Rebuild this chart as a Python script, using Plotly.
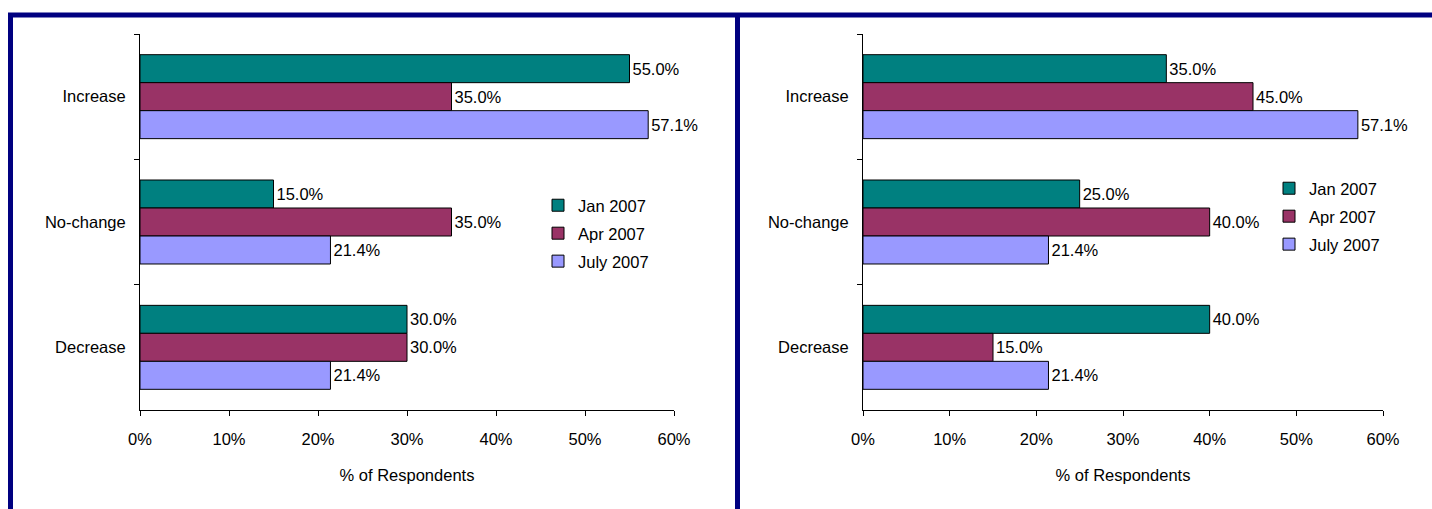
import plotly.graph_objects as go

# Survey categories (top to bottom) and survey rounds
categories = ["Increase", "No-change", "Decrease"]
rounds = ["Jan 2007", "Apr 2007", "July 2007"]

# Left chart: % of respondents per category for each round
left_jan = [55.0, 15.0, 30.0]
left_apr = [35.0, 35.0, 30.0]
left_jul = [57.1, 21.4, 21.4]

# Right chart: % of respondents per category for each round
right_jan = [35.0, 25.0, 40.0]
right_apr = [45.0, 40.0, 15.0]
right_jul = [57.1, 21.4, 21.4]

x_ticks = [0, 10, 20, 30, 40, 50, 60]
x_tick_text = ["0%", "10%", "20%", "30%", "40%", "50%", "60%"]

colors = ["#008080", "#993366", "#9999FF"]
FONT = "Liberation Sans, Arial, sans-serif"
FS = 16.5
W, H = 1432, 509

fig = go.Figure()

panels = [
    ("x", "y", "legend", [left_jan, left_apr, left_jul]),
    ("x2", "y2", "legend2", [right_jan, right_apr, right_jul]),
]
for xa, ya, lg, series in panels:
    for i, (name, vals) in enumerate(zip(rounds, series)):
        fig.add_trace(go.Bar(
            x=vals, y=categories, orientation="h", name=name,
            xaxis=xa, yaxis=ya, legend=lg, legendgroup=lg + name,
            marker=dict(color=colors[i], line=dict(color="#000000", width=1)),
            text=[f"{v:.1f}%" for v in vals], textposition="outside",
            constraintext="none", cliponaxis=False,
            textfont=dict(family=FONT, size=FS, color="#000000"),
            hoverinfo="skip",
        ))

def px_x(p):
    return p / W

def px_y(p):
    return 1 - p / H

y_dom = [px_y(410), px_y(34)]
x_common = dict(
    range=[0, 60], tickvals=x_ticks, ticktext=x_tick_text,
    showline=True, linecolor="#000000", linewidth=1,
    ticks="outside", ticklen=5, tickcolor="#000000", showgrid=False,
    zeroline=False, ticklabelstandoff=9,
    tickfont=dict(family=FONT, size=FS, color="#000000"),
    title=dict(text="% of Respondents", standoff=22,
               font=dict(family=FONT, size=FS, color="#000000")),
    fixedrange=True,
)
y_common = dict(
    categoryorder="array", categoryarray=categories, autorange="reversed",
    showline=True, linecolor="#000000", linewidth=1,
    ticks="outside", ticklen=5, tickcolor="#000000", tickson="boundaries",
    showgrid=False, ticklabelstandoff=10,
    tickfont=dict(family=FONT, size=FS, color="#000000"),
    fixedrange=True,
)

legend_common = dict(
    xanchor="left", yanchor="top", bgcolor="rgba(0,0,0,0)",
    font=dict(family=FONT, size=FS, color="#000000"),
    itemwidth=30, tracegroupgap=3.5, traceorder="grouped",
)

navy = "#000080"
shapes = [
    dict(type="line", xref="paper", yref="paper", x0=px_x(8), x1=1, y0=px_y(15), y1=px_y(15),
         line=dict(color=navy, width=5)),
    dict(type="line", xref="paper", yref="paper", x0=px_x(10.5), x1=px_x(10.5), y0=px_y(13), y1=0,
         line=dict(color=navy, width=5)),
    dict(type="line", xref="paper", yref="paper", x0=px_x(737.5), x1=px_x(737.5), y0=px_y(13), y1=0,
         line=dict(color=navy, width=5)),
]

fig.update_layout(
    width=W, height=H, autosize=False,
    margin=dict(l=0, r=0, t=0, b=0, pad=0, autoexpand=False),
    paper_bgcolor="#FFFFFF", plot_bgcolor="#FFFFFF",
    barmode="group", bargap=0.33, bargroupgap=0,
    font=dict(family=FONT, size=FS, color="#000000"),
    xaxis=dict(domain=[px_x(140), px_x(674)], anchor="y", **x_common),
    yaxis=dict(domain=y_dom, anchor="x", **y_common),
    xaxis2=dict(domain=[px_x(863), px_x(1383)], anchor="y2", **x_common),
    yaxis2=dict(domain=y_dom, anchor="x2", **y_common),
    legend=dict(x=px_x(538), y=px_y(188), **legend_common),
    legend2=dict(x=px_x(1269), y=px_y(171), **legend_common),
    shapes=shapes,
    showlegend=True,
)

fig.write_html("out.html")
